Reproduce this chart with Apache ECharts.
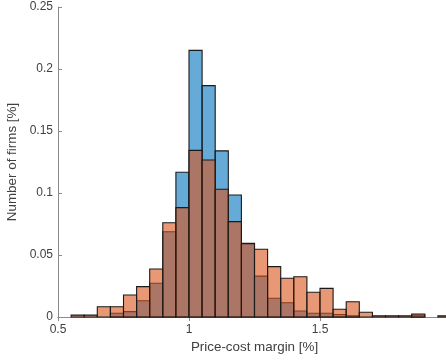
<!DOCTYPE html>
<html>
<head>
<meta charset="utf-8">
<script src="https://cdn.jsdelivr.net/npm/echarts@6/dist/echarts.min.js"></script>
<style>
html,body{margin:0;padding:0;background:#fff;}
#chart{width:446px;height:363px;}
</style>
</head>
<body>
<div id="chart"></div>
<script>
// Bin edges (left edge of each bin, plus final right edge)
const binEdges = [0.55, 0.60, 0.65, 0.70, 0.75, 0.80, 0.85, 0.90, 0.95, 1.00,
                  1.05, 1.10, 1.15, 1.20, 1.25, 1.30, 1.35, 1.40, 1.45, 1.50,
                  1.55, 1.60, 1.65, 1.70, 1.75, 1.80, 1.85, 1.90, 1.95, 2.00];
// Series 1 (blue)
const blueValues = [0, 0, 0, 0.003, 0.0043, 0.0131, 0.0272, 0.0688, 0.1167, 0.215,
                    0.1866, 0.134, 0.0984, 0.0594, 0.033, 0.0151, 0.0115, 0.0048, 0.003, 0.003,
                    0.002, 0.001, 0, 0, 0, 0, 0.0015, 0, 0];
// Series 2 (orange)
const orangeValues = [0.0015, 0.0015, 0.0083, 0.0083, 0.0177, 0.0245, 0.0387, 0.076, 0.0882, 0.1344,
                      0.1266, 0.103, 0.0769, 0.0592, 0.0546, 0.0406, 0.0312, 0.0325, 0.0199, 0.0231,
                      0.0062, 0.0123, 0.0038, 0.001, 0.001, 0.001, 0.0024, 0, 0.001];
const xTicks = [0.5, 1, 1.5, 2];
const yTicks = [0, 0.05, 0.1, 0.15, 0.2, 0.25];

function toData(vals) {
  const out = [];
  for (let i = 0; i < vals.length; i++) {
    if (vals[i] > 0) out.push([binEdges[i], binEdges[i + 1], vals[i]]);
  }
  return out;
}

function makeRender(fill) {
  return function (params, api) {
    const p0 = api.coord([api.value(0), api.value(2)]);
    const p1 = api.coord([api.value(1), 0]);
    return {
      type: 'rect',
      shape: { x: p0[0], y: p0[1], width: p1[0] - p0[0], height: p1[1] - p0[1] },
      style: { fill: fill, stroke: '#1a1a1a', lineWidth: 1.1 }
    };
  };
}

const font = '"Liberation Sans", Arial, Helvetica, sans-serif';
const txt = '#404040';
const lineCol = '#8a8a8a';

const chart = echarts.init(document.getElementById('chart'), null, { renderer: 'canvas' });
chart.setOption({
  animation: false,
  backgroundColor: '#fff',
  grid: { left: 58, top: 7, right: -5, bottom: 46, containLabel: false, outerBoundsMode: 'none' },
  xAxis: [{
    type: 'value', min: xTicks[0], max: xTicks[xTicks.length - 1], interval: 0.5,
    position: 'bottom',
    name: 'Price-cost margin [%]', nameLocation: 'middle', nameGap: 24,
    nameTextStyle: { fontFamily: font, fontSize: 13.4, color: txt },
    axisLine: { show: true, lineStyle: { color: lineCol, width: 1 } },
    axisTick: { show: true, inside: true, length: 4, lineStyle: { color: lineCol } },
    axisLabel: { fontFamily: font, fontSize: 12, color: txt, margin: 7 },
    splitLine: { show: false }
  }, {
    type: 'value', min: xTicks[0], max: xTicks[xTicks.length - 1], interval: 0.5,
    position: 'top',
    axisLine: { show: true, lineStyle: { color: lineCol, width: 1 } },
    axisTick: { show: true, inside: true, length: 4, lineStyle: { color: lineCol } },
    axisLabel: { show: false },
    splitLine: { show: false }
  }],
  yAxis: [{
    type: 'value', min: yTicks[0], max: yTicks[yTicks.length - 1], interval: 0.05,
    position: 'left',
    name: 'Number of firms [%]', nameLocation: 'middle', nameGap: 30,
    nameTextStyle: { fontFamily: font, fontSize: 13.4, color: txt },
    axisLine: { show: true, lineStyle: { color: lineCol, width: 1 } },
    axisTick: { show: true, inside: true, length: 4, lineStyle: { color: lineCol } },
    axisLabel: { fontFamily: font, fontSize: 12, color: txt, margin: 5 },
    splitLine: { show: false }
  }, {
    type: 'value', min: yTicks[0], max: yTicks[yTicks.length - 1], interval: 0.05,
    position: 'right',
    axisLine: { show: true, lineStyle: { color: lineCol, width: 1 } },
    axisTick: { show: true, inside: true, length: 5, lineStyle: { color: '#cccccc' } },
    axisLabel: { show: false },
    splitLine: { show: false }
  }],
  series: [{
    type: 'custom', name: 'blue',
    xAxisIndex: 0, yAxisIndex: 0,
    renderItem: makeRender('rgba(0,114,189,0.6)'),
    encode: { x: [0, 1], y: 2 },
    data: toData(blueValues),
    z: 2
  }, {
    type: 'custom', name: 'orange',
    xAxisIndex: 0, yAxisIndex: 0,
    renderItem: makeRender('rgba(217,83,25,0.6)'),
    encode: { x: [0, 1], y: 2 },
    data: toData(orangeValues),
    z: 3
  }]
});
</script>
</body>
</html>
